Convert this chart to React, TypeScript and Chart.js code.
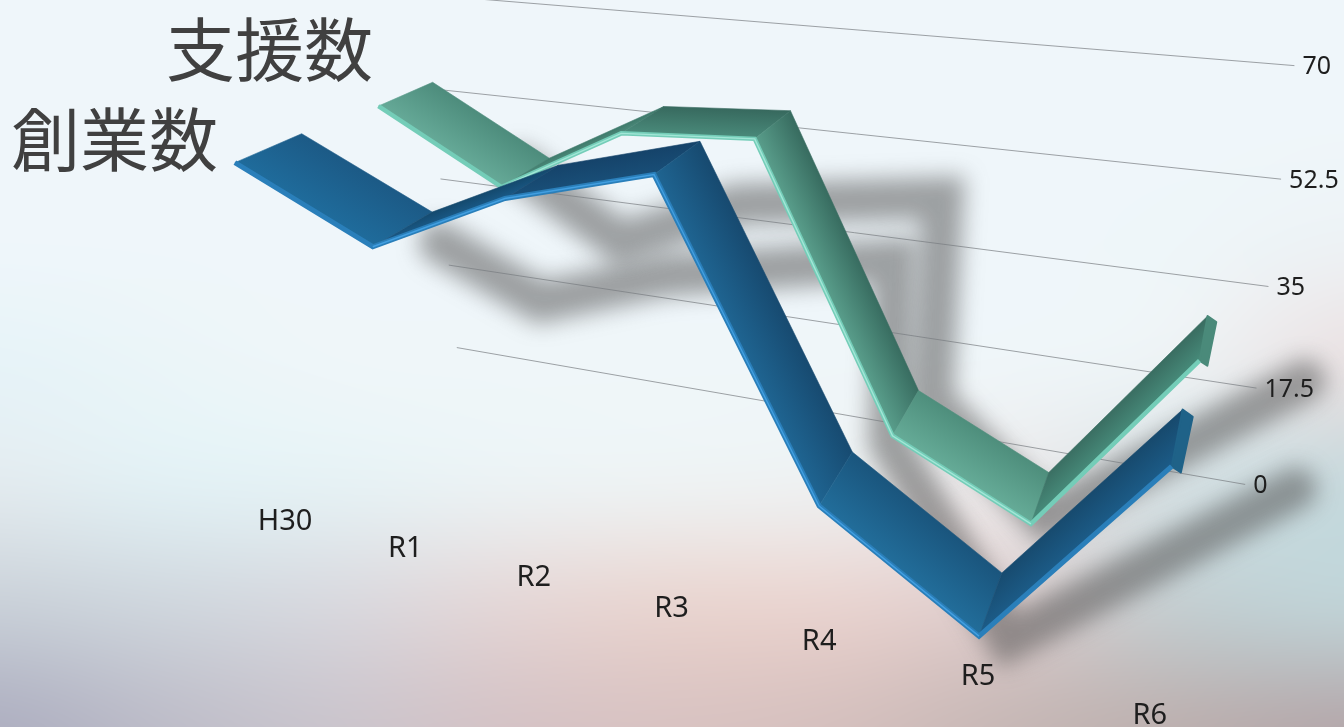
import React, { useEffect, useRef } from "react";
import { Chart, registerables } from "chart.js";

Chart.register(...registerables);

const categories = ["H30", "R1", "R2", "R3", "R4", "R5", "R6"];
const foundingCounts = [56, 46, 56, 62, 18, 3, 33];
const supportCounts = [55.5, 44, 55.5, 57, 11, 0, 31.5];
const seriesNames = ["創業数", "支援数"];
const yTicks = [0, 17.5, 35, 52.5, 70];

// perspective camera: vanishing points of the three axes and their unit sizes
const CAM = {
  ox: 285, oy: 500, ax: -0.032, bv: -0.00153,
  vx: [-3354, -314], vy: [820, 4100], vz: [1320, -307],
};
const WALL = { z: 0.235, di0: -0.26, di1: 6.41, dv: -1.2 };
const PLANES = [
  { z0: 0, z1: 0.06, di: 0, dv: 0 },
  { z0: 0.134, z1: 0.198, di: 0.04, dv: 0 },
];
const BEVEL = ["#2a7fba", "#74cdb8"];
const GLINT = ["rgba(70,165,232,0.85)", "rgba(170,235,220,0.85)"];
const FACE: string[][][] = [
  [
    ["#1f6c9c", "#1c5a86"], ["#1a5a88", "#14496d"], ["#194f78", "#15436a"],
    ["#1f6592", "#174a70"], ["#226e9b", "#1a557d"], ["#1c5c88", "#174a6e"],
  ],
  [
    ["#66aa98", "#4d8c7c"], ["#4e8c7c", "#3e7a6b"], ["#4a8b7b", "#37695e"],
    ["#5a9f8c", "#386c60"], ["#66ac98", "#4e8e7c"], ["#478b7a", "#3a6e62"],
  ],
];
const CAP = ["#1f6288", "#4a8a7a"];
const SHADOW_COLOR = "rgba(80,80,80,0.52)";
const SHADOW_SHIFT = [
  [[205, 80], [168, 55], [160, 77], [240, 85], [70, -65], [29, 4], [124, 22]],
  [[142, 62], [119, 55], [116, 71], [188, 59], [40, -35], [15, -5], [105, 20]],
];
const BACKDROP = [
  ["#eff6fa", "#eff6fa", "#eff6fa", "#eff6fa", "#eff6fa", "#eff6fa", "#eff6fa", "#eff6fa", "#eff6fa"],
  ["#eff6fa", "#eff6fa", "#eff6fa", "#eff6fa", "#eff6fa", "#eff6fa", "#eff6fa", "#eff6fa", "#eff6fa"],
  ["#eff6fa", "#eff6fa", "#eff6fa", "#eff6fa", "#eff6fa", "#eff6fa", "#eff6fa", "#eef6f9", "#edf2f5"],
  ["#e6f3f8", "#ebf5f8", "#eff6f9", "#eff6f9", "#eff6f9", "#eff6f9", "#eff6f9", "#eef3f5", "#e9e0e1"],
  ["#e3ebef", "#e2f1f5", "#e6f2f5", "#ecf3f5", "#eef3f4", "#eef1f2", "#ece9ea", "#d5e0e3", "#c5d8dc"],
  ["#c9d0d8", "#cfd6dd", "#d8d8de", "#e4d6d6", "#e9d4cf", "#e9d3cf", "#dccdcd", "#c3ced1", "#c0d4d8"],
  ["#adaec0", "#bdbcc8", "#cac4cc", "#d4c2c5", "#d8c2c1", "#d4bfbd", "#c6b7b5", "#bcafae", "#b4a7aa"],
];

function project(i: number, v: number, t: number) {
  const w = i * CAM.ax;
  const u = v * CAM.bv;
  const d = 1 + w + u + t;
  return {
    x: (CAM.ox + w * CAM.vx[0] + u * CAM.vy[0] + t * CAM.vz[0]) / d,
    y: (CAM.oy + w * CAM.vx[1] + u * CAM.vy[1] + t * CAM.vz[1]) / d,
  };
}

function modelOf(chart: any) {
  const sx = chart.scales.x;
  const sy = chart.scales.y;
  return (px: number, py: number) => ({
    i: ((px - sx.left) / (sx.right - sx.left)) * (categories.length - 1),
    v: sy.getValueForPixel(py),
  });
}

function drawBackdrop(ctx: CanvasRenderingContext2D, W: number, H: number) {
  const rows = BACKDROP.length;
  const cols = BACKDROP[0].length;
  const small = document.createElement("canvas");
  small.width = cols;
  small.height = rows;
  const s = small.getContext("2d") as CanvasRenderingContext2D;
  BACKDROP.forEach((row, r) =>
    row.forEach((c, k) => {
      s.fillStyle = c;
      s.fillRect(k, r, 1, 1);
    }),
  );
  ctx.save();
  ctx.imageSmoothingEnabled = true;
  ctx.imageSmoothingQuality = "high";
  ctx.drawImage(small, 0.5, 0.5, cols - 1, rows - 1, 0, 0, W, H);
  ctx.restore();
}

const ribbonPlugin = {
  id: "ribbon",
  beforeDraw(chart: any) {
    const { ctx, width, height } = chart;
    drawBackdrop(ctx, width, height);

    // soft shadows of the two ribbons
    ctx.save();
    ctx.filter = "blur(11px)";
    ctx.strokeStyle = SHADOW_COLOR;
    ctx.lineJoin = "miter";
    ctx.lineCap = "round";
    chart.data.datasets.forEach((_: any, di: number) => {
      const model = chart.$ribbonModel?.[di];
      if (!model) return;
      const pl = PLANES[di];
      ctx.lineWidth = 42;
      ctx.beginPath();
      model.forEach((m: any, k: number) => {
        const p = project(m.i + pl.di, m.v + pl.dv, pl.z0);
        const sx = p.x + SHADOW_SHIFT[di][k][0];
        const sy = p.y + SHADOW_SHIFT[di][k][1];
        if (k === 0) ctx.moveTo(sx, sy);
        else ctx.lineTo(sx, sy);
      });
      ctx.stroke();
    });
    ctx.restore();

    // gridlines on the back wall and value labels
    const sy = chart.scales.y;
    const toV = modelOf(chart);
    ctx.save();
    yTicks.forEach((tick) => {
      const v = toV(0, sy.getPixelForValue(tick)).v + WALL.dv;
      const a = project(WALL.di0, v, WALL.z);
      const b = project(WALL.di1, v, WALL.z);
      ctx.strokeStyle = "rgba(120,124,128,0.7)";
      ctx.lineWidth = 1;
      ctx.beginPath();
      ctx.moveTo(a.x, a.y);
      ctx.lineTo(b.x, b.y);
      ctx.stroke();
      ctx.fillStyle = "#1e1e1e";
      ctx.font = '25px "Noto Sans"';
      ctx.textAlign = "left";
      ctx.textBaseline = "middle";
      ctx.fillText(String(tick), b.x + 8, b.y + 1.5);
    });
    // category labels on the floor in front
    ctx.font = '29px "Noto Sans"';
    ctx.textAlign = "center";
    ctx.fillStyle = "#1e1e1e";
    categories.forEach((c, i) => {
      const p = project(i, 0, 0);
      ctx.fillText(c, p.x, p.y + 22);
    });
    // series labels
    ctx.font = '69px "Noto Sans CJK JP"';
    ctx.textAlign = "right";
    ctx.fillStyle = "#404040";
    ctx.fillText(seriesNames[1], 373, 50);
    ctx.fillText(seriesNames[0], 218, 140);
    ctx.restore();
  },
  afterDatasetsUpdate(chart: any) {
    const toV = modelOf(chart);
    chart.$ribbonModel = chart.data.datasets.map((_: any, di: number) => {
      const meta = chart.getDatasetMeta(di);
      const pl = PLANES[di];
      return meta.data.map((pt: any) => {
        const m = toV(pt.x, pt.y);
        const p = project(m.i + pl.di, m.v + pl.dv, pl.z0);
        pt.x = p.x;
        pt.y = p.y;
        return m;
      });
    });
  },
  beforeDatasetDraw(chart: any, args: any) {
    const di = args.index;
    const model = chart.$ribbonModel[di];
    const pl = PLANES[di];
    const P = (m: any, z: number, di2 = 0, dv2 = 0) => project(m.i + pl.di + di2, m.v + pl.dv + dv2, z);
    const ctx = chart.ctx;
    ctx.save();
    for (let k = 0; k < model.length - 1; k++) {
      const f0 = P(model[k], pl.z0);
      const f1 = P(model[k + 1], pl.z0);
      const b1 = P(model[k + 1], pl.z1);
      const b0 = P(model[k], pl.z1);
      // shade across the ribbon, at right angles to its front edge
      const ex = f1.x - f0.x;
      const ey = f1.y - f0.y;
      const len = Math.hypot(ex, ey) || 1;
      const nx = -ey / len;
      const ny = ex / len;
      const mx = (b0.x + b1.x - f0.x - f1.x) / 2;
      const my = (b0.y + b1.y - f0.y - f1.y) / 2;
      const dot = mx * nx + my * ny;
      const cx = (f0.x + f1.x) / 2;
      const cy = (f0.y + f1.y) / 2;
      const g = ctx.createLinearGradient(cx, cy, cx + nx * dot, cy + ny * dot);
      g.addColorStop(0, FACE[di][k][0]);
      g.addColorStop(1, FACE[di][k][1]);
      ctx.fillStyle = g;
      ctx.strokeStyle = g;
      ctx.lineWidth = 0.6;
      ctx.beginPath();
      ctx.moveTo(f0.x, f0.y);
      ctx.lineTo(f1.x, f1.y);
      ctx.lineTo(b1.x, b1.y);
      ctx.lineTo(b0.x, b0.y);
      ctx.closePath();
      ctx.fill();
      ctx.stroke();
    }
    // end cap at the last category
    const e = model[model.length - 1];
    const c0 = P(e, pl.z0);
    const c1 = P(e, pl.z1);
    const c2 = P(e, pl.z1, 0.06, -0.8);
    const c3 = P(e, pl.z0, 0.05, -0.6);
    ctx.fillStyle = CAP[di];
    ctx.strokeStyle = CAP[di];
    ctx.lineJoin = "round";
    ctx.lineWidth = 2;
    ctx.beginPath();
    ctx.moveTo(c0.x, c0.y);
    ctx.lineTo(c1.x, c1.y);
    ctx.lineTo(c2.x, c2.y);
    ctx.lineTo(c3.x, c3.y);
    ctx.closePath();
    ctx.fill();
    ctx.stroke();
    ctx.restore();
  },
  afterDatasetDraw(chart: any, args: any) {
    const di = args.index;
    const pts = args.meta.data;
    const ctx = chart.ctx;
    ctx.save();
    ctx.strokeStyle = GLINT[di];
    ctx.lineWidth = 1.4;
    ctx.lineJoin = "miter";
    ctx.beginPath();
    pts.forEach((p: any, k: number) => {
      if (k === 1) ctx.moveTo(p.x, p.y);
      else if (k > 1 && k <= pts.length - 2) ctx.lineTo(p.x, p.y);
    });
    ctx.stroke();
    ctx.restore();
  },
};

export default function App() {
  const ref = useRef<HTMLCanvasElement | null>(null);
  useEffect(() => {
    const chart = new Chart(ref.current as HTMLCanvasElement, {
      type: "line",
      data: {
        labels: categories,
        datasets: [
          { label: seriesNames[0], data: foundingCounts, borderColor: BEVEL[0], borderWidth: 5, pointRadius: 0, tension: 0, clip: false as any, borderJoinStyle: "miter" },
          { label: seriesNames[1], data: supportCounts, borderColor: BEVEL[1], borderWidth: 4.5, pointRadius: 0, tension: 0, clip: false as any, borderJoinStyle: "miter" },
        ],
      },
      options: {
        responsive: false,
        animation: false,
        layout: { padding: 0 },
        plugins: { legend: { display: false }, tooltip: { enabled: false } },
        events: [],
        scales: {
          x: { display: false },
          y: { display: false, min: 0, max: 70, ticks: { stepSize: 17.5 } },
        },
      },
      plugins: [ribbonPlugin as any],
    });
    return () => chart.destroy();
  }, []);
  return (
    <div style={{ position: "absolute", left: 0, top: 0, width: 1344, height: 727, overflow: "hidden" }}>
      <canvas ref={ref} width={1344} height={727} style={{ display: "block" }} />
    </div>
  );
}
